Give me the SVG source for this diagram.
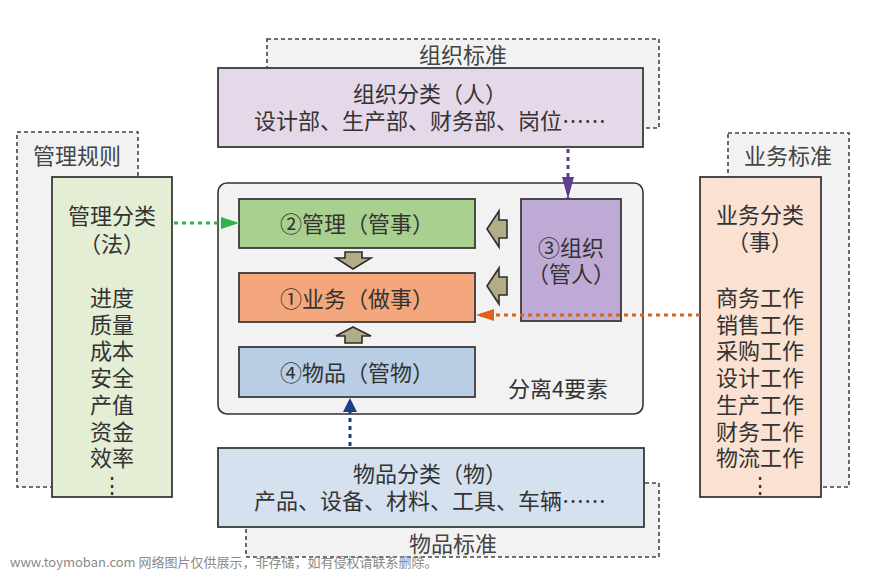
<svg xmlns="http://www.w3.org/2000/svg" width="869" height="571" viewBox="0 0 869 571">
<style>
text{font-family:"Noto Sans CJK SC","Noto Sans",sans-serif;font-size:22px;fill:#333;text-anchor:middle;dominant-baseline:central}
.std{fill:#f2f2f2;stroke:#444;stroke-width:1.6;stroke-dasharray:4,3}
.std-t{fill:#444}
.node{stroke:#3a3a3a;stroke-width:1.8}
.blk{fill:#b2ad86;stroke:#2e2e2e;stroke-width:1.6;stroke-linejoin:miter}
.dot{fill:none;stroke-width:3;stroke-dasharray:4,4}
.wm{font-size:13px;fill:#8a8a8a;text-anchor:start}
</style>
<defs>
<marker id="mg" markerUnits="userSpaceOnUse" markerWidth="18" markerHeight="14" refX="18" refY="7" orient="auto"><path d="M0,1 L18,7 L0,13 Z" fill="#2db34a"/></marker>
<marker id="mo" markerUnits="userSpaceOnUse" markerWidth="18" markerHeight="14" refX="18" refY="7" orient="auto"><path d="M0,1 L18,7 L0,13 Z" fill="#e0601c"/></marker>
<marker id="mp" markerUnits="userSpaceOnUse" markerWidth="22" markerHeight="14" refX="22" refY="7" orient="auto"><path d="M0,1 L22,7 L0,13 Z" fill="#5b3f8c"/></marker>
<marker id="mb" markerUnits="userSpaceOnUse" markerWidth="14" markerHeight="16" refX="14" refY="8" orient="auto"><path d="M0,1 L14,8 L0,15 Z" fill="#1f3c88"/></marker>
</defs>
<rect width="869" height="571" fill="#ffffff"/>

<g id="org-std">
<rect class="std" x="267" y="39" width="392" height="89"/>
<text class="std-t" x="463" y="53">组织标准</text>
</g>
<g id="org-class">
<rect class="node" x="218" y="68" width="425" height="79" fill="#e4d8e9"/>
<text x="430" y="92">组织分类（人）</text>
<text x="430" y="119">设计部、生产部、财务部、岗位……</text>
</g>

<g id="mgmt-std">
<rect class="std" x="17" y="132" width="121" height="355"/>
<text class="std-t" x="77" y="154">管理规则</text>
</g>
<g id="mgmt-class">
<rect class="node" x="52" y="177" width="120" height="320" fill="#e3eed5"/>
<text x="112" y="214"><tspan x="112">管理分类</tspan><tspan x="112" dy="28">（法）</tspan></text>
<text x="112" y="296"><tspan x="112">进度</tspan><tspan x="112" dy="26.7">质量</tspan><tspan x="112" dy="26.7">成本</tspan><tspan x="112" dy="26.7">安全</tspan><tspan x="112" dy="26.7">产值</tspan><tspan x="112" dy="26.7">资金</tspan><tspan x="112" dy="26.7">效率</tspan><tspan x="112" dy="26.7">⋮</tspan></text>
</g>

<g id="biz-std">
<rect class="std" x="728" y="133" width="121" height="354"/>
<text class="std-t" x="788" y="154">业务标准</text>
</g>
<g id="biz-class">
<rect class="node" x="700" y="177" width="121" height="320" fill="#fbe1d2"/>
<text x="760" y="213"><tspan x="760">业务分类</tspan><tspan x="760" dy="27">（事）</tspan></text>
<text x="760" y="296"><tspan x="760">商务工作</tspan><tspan x="760" dy="26.7">销售工作</tspan><tspan x="760" dy="26.7">采购工作</tspan><tspan x="760" dy="26.7">设计工作</tspan><tspan x="760" dy="26.7">生产工作</tspan><tspan x="760" dy="26.7">财务工作</tspan><tspan x="760" dy="26.7">物流工作</tspan><tspan x="760" dy="26.7">⋮</tspan></text>
</g>

<g id="goods-std">
<rect class="std" x="246" y="483" width="413" height="74"/>
<text class="std-t" x="453" y="542">物品标准</text>
</g>
<g id="goods-class">
<rect class="node" x="218" y="448" width="426" height="79" fill="#d6e1ef"/>
<text x="430" y="472">物品分类（物）</text>
<text x="430" y="499">产品、设备、材料、工具、车辆……</text>
</g>

<g id="core">
<rect x="218" y="183" width="425" height="231" rx="9" ry="9" fill="#f2f2f2" stroke="#333" stroke-width="1.6"/>
<text x="558" y="387">分离4要素</text>
</g>
<g id="n2">
<rect class="node" x="239" y="199" width="236" height="49" fill="#a9d08e"/>
<text x="357" y="222">②管理（管事）</text>
</g>
<g id="n1">
<rect class="node" x="239" y="273" width="236" height="49" fill="#f4a77c"/>
<text x="357" y="297">①业务（做事）</text>
</g>
<g id="n4">
<rect class="node" x="239" y="347" width="236" height="50" fill="#b9cde5"/>
<text x="357" y="371">④物品（管物）</text>
</g>
<g id="n3">
<rect class="node" x="521" y="199" width="100" height="122" fill="#bfaad6"/>
<text x="571" y="246"><tspan x="571">③组织</tspan><tspan x="571" dy="26">（管人）</tspan></text>
</g>

<g id="connectors">
<polygon class="blk" points="345,252 362,252 362,258 371,258 353,269 336,258 345,258"/>
<polygon class="blk" points="353,327 371,336 362,336 362,343 345,343 345,336 336,336"/>
<polygon class="blk" points="487,229 499,211 499,220 507,220 507,238 499,238 499,247"/>
<polygon class="blk" points="487,286 499,268 499,277 507,277 507,295 499,295 499,304"/>
<path class="dot" d="M174,223 L239,223" stroke="#2db34a" marker-end="url(#mg)"/>
<path class="dot" d="M700,315 L476,315" stroke="#e0601c" marker-end="url(#mo)"/>
<path class="dot" d="M568,149 L568,199" stroke="#5b3f8c" marker-end="url(#mp)"/>
<path class="dot" d="M350,446 L350,398" stroke="#1f3c88" marker-end="url(#mb)"/>
</g>

<text class="wm" x="10" y="561">www.toymoban.com 网络图片仅供展示，非存储，如有侵权请联系删除。</text>
</svg>
